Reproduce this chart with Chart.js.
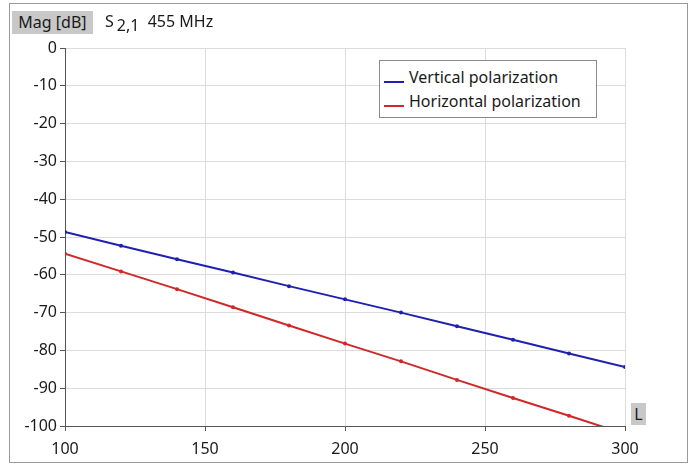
<!DOCTYPE html>
<html>
<head>
<meta charset="utf-8">
<script src="https://cdn.jsdelivr.net/npm/chart.js@4/dist/chart.umd.min.js"></script>
<style>
  body { margin: 0; background: #fff; font-family: 'Noto Sans', sans-serif; }
  #wrap { position: relative; width: 694px; height: 465px; }
  #frame { position: absolute; left: 9px; top: 3px; width: 677px; height: 458px; border: 1px solid #9a9a9a; }
  canvas { position: absolute; left: 0; top: 0; }
  .tag { position: absolute; background: #c8c8c8; color: #1a1a1a; font-size: 16px; line-height: 23px; text-align: center; }
  #head { position: absolute; left: 105px; top: 10px; font-size: 16px; color: #1a1a1a; line-height: 23px; white-space: nowrap; }
  #legend { position: absolute; left: 379px; top: 60px; width: 216px; height: 56px; border: 1px solid #8a8a8a; background: #fff; }
  .item { position: absolute; left: 4px; font-size: 16px; color: #1a1a1a; white-space: nowrap; line-height: 20px; }
  .swatch { display: inline-block; width: 20px; height: 2px; vertical-align: middle; margin-right: 5px; position: relative; top: 3px; }
</style>
</head>
<body>
<div id="wrap">
  <div id="frame"></div>
  <canvas id="my-chart" width="694" height="465"></canvas>
  <div class="tag" style="left:12px;top:11px;width:81px;height:23px;">Mag [dB]</div>
  <div id="head">S<span style="position:relative;top:4px;margin-left:3px;">2,1</span>&nbsp;&nbsp;455 MHz</div>
  <div class="tag" style="left:631px;top:403px;width:15px;height:22px;line-height:22px;">L</div>
  <div id="legend">
    <div class="item" style="top:6px;"><span class="swatch" style="background:#2020b0;"></span>Vertical polarization</div>
    <div class="item" style="top:30px;"><span class="swatch" style="background:#d02828;"></span>Horizontal polarization</div>
  </div>
</div>
<script>
'use strict';

// ******** DATA **************
let lengths = [100, 120, 140, 160, 180, 200, 220, 240, 260, 280, 300];
let verticalMag = [-48.7, -52.3, -55.9, -59.4, -63.0, -66.5, -70.0, -73.6, -77.2, -80.8, -84.4];
let horizontalMag = [-54.4, -59.1, -63.8, -68.6, -73.4, -78.2, -82.9, -87.8, -92.6, -97.3, -102.1];
let seriesNames = ['Vertical polarization', 'Horizontal polarization'];
let xTicks = [100, 150, 200, 250, 300];
let yTicks = [0, -10, -20, -30, -40, -50, -60, -70, -80, -90, -100];

function toPoints(values) {
  let pts = [];
  for (let i = 0; i < lengths.length; i++) {
    pts.push({ x: lengths[i], y: values[i] });
  }
  return pts;
}

let canvasElem = document.getElementById('my-chart');

let tickFont = { family: "'Noto Sans', sans-serif", size: 16 };

new Chart(canvasElem, {
  type: 'line',
  data: {
    datasets: [{
      label: seriesNames[0],
      data: toPoints(verticalMag),
      borderColor: '#2020b0',
      backgroundColor: '#2020b0',
      borderWidth: 2,
      pointRadius: 1,
      pointHoverRadius: 1
    },
    {
      label: seriesNames[1],
      data: toPoints(horizontalMag),
      borderColor: '#d02828',
      backgroundColor: '#d02828',
      borderWidth: 2,
      pointRadius: 1,
      pointHoverRadius: 1
    }]
  },
  options: {
    responsive: false,
    animation: false,
    layout: { padding: { left: 0, top: 48, right: 69, bottom: 6 } },
    plugins: {
      legend: { display: false },
      tooltip: { enabled: false }
    },
    scales: {
      x: {
        type: 'linear',
        min: 100,
        max: 300,
        afterBuildTicks: (scale) => { scale.ticks = xTicks.map(v => ({ value: v })); },
        afterFit: (scale) => { scale.height = 33; },
        ticks: { color: '#1a1a1a', font: tickFont, padding: 9, maxRotation: 0 },
        grid: { color: '#dcdcdc', tickColor: '#555', tickLength: 5 },
        border: { color: '#555', width: 1 }
      },
      y: {
        min: -100,
        max: 0,
        afterBuildTicks: (scale) => { scale.ticks = yTicks.map(v => ({ value: v })); },
        afterFit: (scale) => { scale.width = 65; },
        ticks: { color: '#1a1a1a', font: tickFont, padding: 3 },
        grid: { color: '#dcdcdc', tickColor: '#555', tickLength: 5 },
        border: { color: '#555', width: 1 }
      }
    }
  }
});
</script>
</body>
</html>
